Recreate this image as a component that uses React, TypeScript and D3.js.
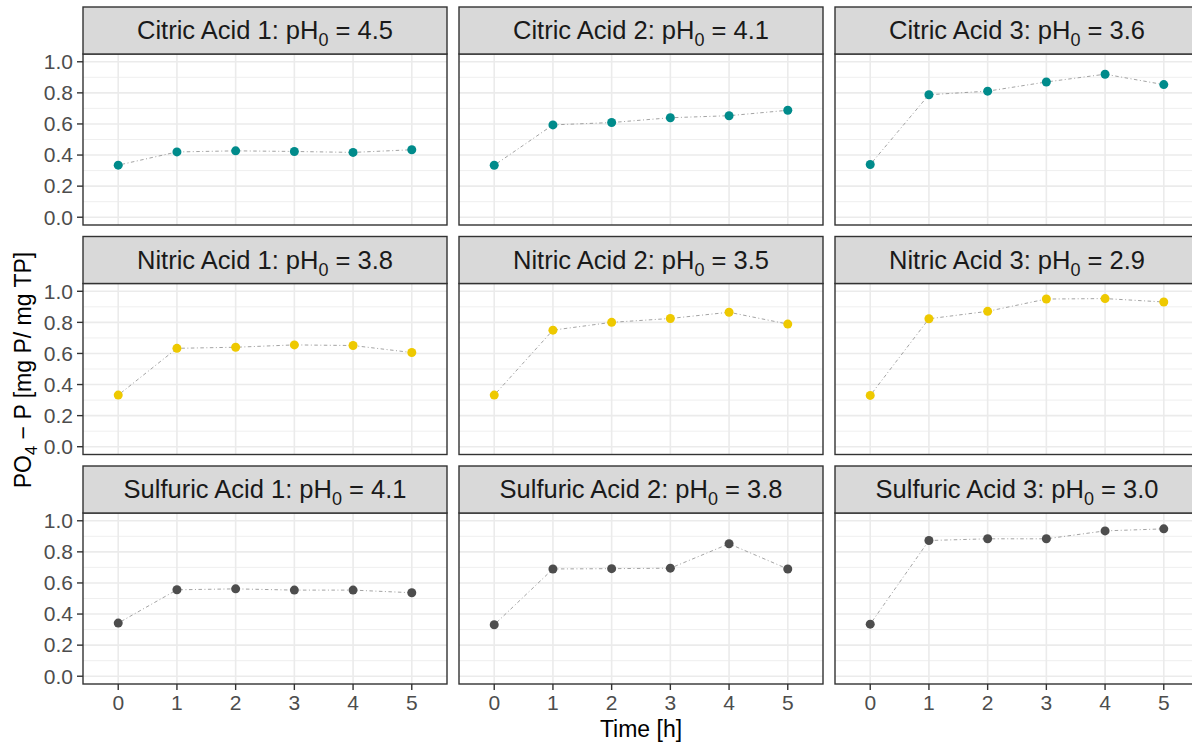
import React from "react";
import * as d3 from "d3";

const timeLabels = ["0", "1", "2", "3", "4", "5"];
const yTicks = [0, 0.2, 0.4, 0.6, 0.8, 1.0];
const yMinor = [0.1, 0.3, 0.5, 0.7, 0.9];

const acidNames = ["Citric Acid", "Nitric Acid", "Sulfuric Acid"];
const acidColors = ["#008B8B", "#EEC900", "#4D4D4D"];
const ph0 = [
  ["4.5", "4.1", "3.6"],
  ["3.8", "3.5", "2.9"],
  ["4.1", "3.8", "3.0"],
];

const citric1 = [0.335, 0.42, 0.427, 0.423, 0.417, 0.434];
const citric2 = [0.334, 0.594, 0.609, 0.64, 0.653, 0.688];
const citric3 = [0.339, 0.788, 0.811, 0.87, 0.92, 0.853];
const nitric1 = [0.332, 0.633, 0.64, 0.655, 0.651, 0.606];
const nitric2 = [0.332, 0.75, 0.8, 0.825, 0.865, 0.789];
const nitric3 = [0.33, 0.823, 0.871, 0.95, 0.953, 0.931];
const sulfuric1 = [0.342, 0.556, 0.562, 0.554, 0.554, 0.537];
const sulfuric2 = [0.331, 0.69, 0.692, 0.695, 0.852, 0.69];
const sulfuric3 = [0.335, 0.873, 0.884, 0.884, 0.935, 0.948];

const seriesGrid = [
  [citric1, citric2, citric3],
  [nitric1, nitric2, nitric3],
  [sulfuric1, sulfuric2, sulfuric3],
];

const FONT = "'Liberation Sans', Arial, sans-serif";

export default function App() {
  const W = 1192;
  const H = 742;
  const colLefts = [83, 459, 835];
  const panelW = 364;
  const rowTops = [7, 236.5, 466];
  const stripH = 47;
  const panelH = 171;

  const panels: React.ReactNode[] = [];

  rowTops.forEach((rt, r) => {
    const pTop = rt + stripH;
    const pBot = pTop + panelH;
    const y = d3.scaleLinear().domain([-0.05, 1.05]).range([pBot, pTop]);
    colLefts.forEach((cl, c) => {
      const x = d3
        .scalePoint<string>()
        .domain(timeLabels)
        .range([cl, cl + panelW])
        .padding(0.6);
      const vals = seriesGrid[r][c];
      const pts = vals.map((v, i) => [x(timeLabels[i]) as number, y(v)] as [number, number]);
      const line = d3.line()(pts) || "";
      const key = `${r}-${c}`;
      panels.push(
        <g key={key}>
          <clipPath id={`clip-${key}`}>
            <rect x={cl} y={pTop} width={panelW} height={panelH} />
          </clipPath>
          <rect x={cl} y={pTop} width={panelW} height={panelH} fill="#FFFFFF" />
          <g clipPath={`url(#clip-${key})`}>
            {yMinor.map((t) => (
              <line key={`m${t}`} x1={cl} x2={cl + panelW} y1={y(t)} y2={y(t)} stroke="#EBEBEB" strokeWidth={0.8} />
            ))}
            {yTicks.map((t) => (
              <line key={`M${t}`} x1={cl} x2={cl + panelW} y1={y(t)} y2={y(t)} stroke="#EBEBEB" strokeWidth={1.6} />
            ))}
            {timeLabels.map((t) => (
              <line key={`x${t}`} x1={x(t)} x2={x(t)} y1={pTop} y2={pBot} stroke="#EBEBEB" strokeWidth={1.6} />
            ))}
            <path d={line} fill="none" stroke="#8C8C8C" strokeWidth={0.8} strokeDasharray="1 2.5 3.5 2.5" />
            {pts.map((p, i) => (
              <circle key={i} cx={p[0]} cy={p[1]} r={4.5} fill={acidColors[r]} />
            ))}
          </g>
          <rect x={cl} y={pTop} width={panelW} height={panelH} fill="none" stroke="#333333" strokeWidth={1.4} />
          <rect x={cl} y={rt} width={panelW} height={stripH} fill="#D9D9D9" stroke="#333333" strokeWidth={1.4} />
          <text x={cl + panelW / 2} y={rt + 32.3} textAnchor="middle" fontFamily={FONT} fontSize={25.5} fill="#1A1A1A">
            {`${acidNames[r]} ${c + 1}: pH`}
            <tspan fontSize={18} dy={7}>0</tspan>
            <tspan dy={-7}>{` = ${ph0[r][c]}`}</tspan>
          </text>
          {c === 0 &&
            yTicks.map((t) => (
              <g key={`yt${t}`}>
                <line x1={cl - 6} x2={cl} y1={y(t)} y2={y(t)} stroke="#333333" strokeWidth={1.4} />
                <text x={cl - 10} y={y(t)} dy="0.35em" textAnchor="end" fontFamily={FONT} fontSize={21} fill="#4D4D4D">
                  {t.toFixed(1)}
                </text>
              </g>
            ))}
          {r === 2 &&
            timeLabels.map((t) => (
              <g key={`xt${t}`}>
                <line x1={x(t)} x2={x(t)} y1={pBot} y2={pBot + 6} stroke="#333333" strokeWidth={1.4} />
                <text x={x(t)} y={pBot + 26} textAnchor="middle" fontFamily={FONT} fontSize={21} fill="#4D4D4D">
                  {t}
                </text>
              </g>
            ))}
        </g>
      );
    });
  });

  const plotCenterX = (colLefts[0] + colLefts[2] + panelW) / 2;
  const plotCenterY = (rowTops[0] + stripH + rowTops[2] + stripH + panelH) / 2;

  return (
    <svg
      width={W}
      height={H}
      style={{ position: "absolute", left: 0, top: 0, background: "#FFFFFF" }}
    >
      <rect x={0} y={0} width={W} height={H} fill="#FFFFFF" />
      {panels}
      <text x={plotCenterX} y={737} textAnchor="middle" fontFamily={FONT} fontSize={23} fill="#000000">
        Time [h]
      </text>
      <text
        transform={`translate(31,${plotCenterY + 1}) rotate(-90)`}
        textAnchor="middle"
        fontFamily={FONT}
        fontSize={23}
        fill="#000000"
      >
        PO
        <tspan fontSize={16.5} dy={6}>4</tspan>
        <tspan dy={-6}>{" \u2212 P [mg P/ mg TP]"}</tspan>
      </text>
    </svg>
  );
}
